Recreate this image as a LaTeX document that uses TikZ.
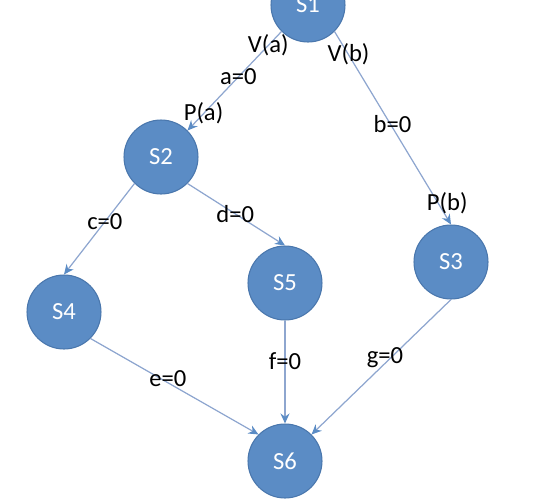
\documentclass[tikz,border=0pt]{standalone}
\usepackage{fontspec}
\setmainfont{Carlito}
\usetikzlibrary{arrows.meta}
\definecolor{cnode}{HTML}{5B8CC5}
\definecolor{cborder}{HTML}{4A77AD}
\definecolor{cedge}{HTML}{8EA6CF}
\tikzset{
  every picture/.style={font=\fontsize{14}{16}\selectfont},
  state/.style={circle, draw=cborder, fill=cnode, text=white, minimum size=1.48cm, inner sep=0pt, line width=0.6pt},
  link/.style={-{Stealth[length=2mm, width=1.8mm, color=cnode]}, draw=cedge, line width=0.7pt},
  lbl/.style={text=black, inner sep=1pt},
}

\begin{document}
\begin{tikzpicture}[x=0.02cm, y=-0.02cm]
  \clip (0,0) rectangle (534,498);
  % states
  \node[state] (s1) at (308,5) {S1};
  \node[state] (s2) at (161,157) {S2};
  \node[state] (s3) at (451,262) {S3};
  \node[state] (s4) at (64,312) {S4};
  \node[state] (s5) at (285,283) {S5};
  \node[state] (s6) at (285,461) {S6};
  % transitions
  \draw[link] (s1.south west) -- node[lbl, pos=0.14] {V(a)} node[lbl, pos=0.46] {a=0} node[lbl, pos=0.83] {P(a)} (s2.north east);
  \draw[link] (s1.south east) -- node[lbl, pos=0.12] {V(b)} node[lbl, pos=0.48, xshift=0.04cm] {b=0} node[lbl, pos=0.89, xshift=0.18cm] {P(b)} (s3.north);
  \draw[link] (s2.south west) -- node[lbl, pos=0.42] {c=0} (s4.north);
  \draw[link] (s2.south east) -- node[lbl, pos=0.49] {d=0} (s5.north);
  \draw[link] (s4.south east) -- node[lbl, pos=0.46, yshift=0.08cm] {e=0} (s6.north west);
  \draw[link] (s5.south) -- node[lbl, pos=0.39] {f=0} (s6.north);
  \draw[link] (s3.south) -- node[lbl, pos=0.43, xshift=-0.12cm] {g=0} (s6.north east);
\end{tikzpicture}
\end{document}
